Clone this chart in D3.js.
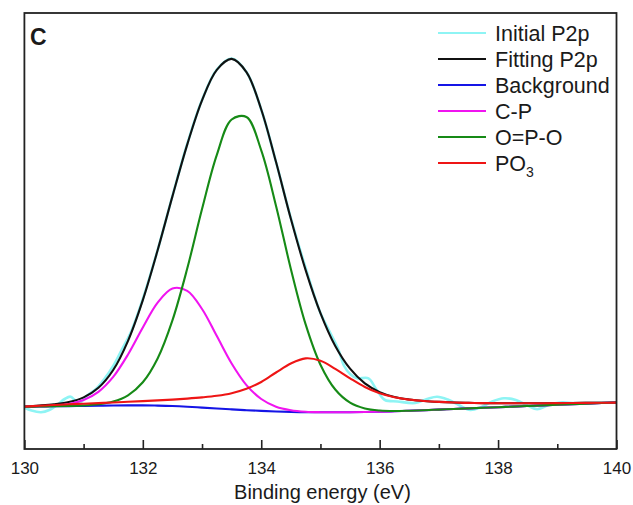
<!DOCTYPE html>
<html>
<head>
<meta charset="utf-8">
<script src="https://d3js.org/d3.v7.min.js"></script>
<style>
  html, body { margin: 0; padding: 0; background: #fff; }
  text { font-family: "Liberation Sans", Arial, sans-serif; fill: #1a1a1a; }
</style>
</head>
<body>
<div id="chart"></div>
<script>
// binding energy grid (eV) used by the fitted curves
var energy = [130, 130.25, 130.5, 130.75, 131, 131.25, 131.5, 131.75, 132, 132.25,
  132.5, 132.75, 133, 133.25, 133.5, 133.75, 134, 134.25, 134.5, 134.75,
  135, 135.25, 135.5, 135.75, 136, 136.25, 136.5, 136.75, 137, 137.25,
  137.5, 137.75, 138, 138.25, 138.5, 138.75, 139, 139.25, 139.5, 139.75, 140];

// intensities (a.u.)
var fitting = [42.4, 43.4, 44.7, 46.9, 51.6, 61.2, 79.0, 108.2, 148.9, 198.7,
  252.6, 304.4, 348.7, 379.2, 390.1, 376.9, 339.5, 286.9, 230.2, 178.9,
  135.9, 103.0, 80.3, 65.6, 56.9, 52.0, 49.5, 48.0, 47.1, 46.5,
  46.1, 45.9, 45.8, 45.7, 45.7, 45.8, 45.9, 46.0, 46.1, 46.2, 46.4];

var background = [42.3, 42.5, 42.7, 42.9, 43.1, 43.3, 43.5, 43.6, 43.6, 43.4,
  43.0, 42.3, 41.4, 40.5, 39.6, 38.8, 38.1, 37.5, 37.1, 36.8,
  36.7, 36.7, 36.8, 37.0, 37.3, 37.7, 38.2, 38.8, 39.4, 40.0,
  40.6, 41.2, 41.8, 42.4, 43.0, 43.6, 44.2, 44.8, 45.4, 46.0, 46.5];

var cp = [42.3, 42.7, 43.4, 45.0, 49.0, 57.2, 72.1, 94.5, 121.5, 146.4,
  160.6, 158.2, 140.0, 112.9, 85.5, 63.9, 50.0, 42.3, 38.8, 37.3,
  36.8, 36.7, 36.8, 37.0, 37.3, 37.7, 38.2, 38.8, 39.4, 40.0,
  40.6, 41.2, 41.8, 42.4, 43.0, 43.6, 44.2, 44.8, 45.4, 46.0, 46.5];

var opo = [42.3, 42.5, 42.7, 43.0, 43.5, 44.7, 47.4, 53.7, 66.7, 90.5,
  128.6, 180.4, 239.9, 294.1, 329.5, 332.0, 298.7, 243.1, 180.1, 124.6,
  84.3, 59.5, 46.4, 40.6, 38.5, 38.0, 38.3, 38.8, 39.4, 40.0,
  40.6, 41.2, 41.8, 42.4, 43.0, 43.6, 44.2, 44.8, 45.4, 46.0, 46.5];

var po3 = [42.4, 43.2, 44.0, 44.7, 45.3, 45.9, 46.5, 47.2, 47.9, 48.6,
  49.4, 50.4, 51.6, 53.2, 55.8, 60.2, 67.0, 76.5, 85.5, 90.6,
  88.2, 80.2, 70.7, 62.0, 55.7, 51.7, 49.4, 48.0, 47.1, 46.5,
  46.1, 45.9, 45.8, 45.7, 45.7, 45.8, 45.9, 46.0, 46.1, 46.2, 46.4];

// measured spectrum has its own (irregular) points
var initialEnergy = [130, 130.12, 130.28, 130.42, 130.55, 130.68, 130.78, 130.92, 131.05, 131.2,
  131.35, 131.5, 131.65, 131.8, 132, 132.25, 132.5, 132.75, 133, 133.25,
  133.5, 133.75, 134, 134.25, 134.5, 134.75, 135, 135.15, 135.3, 135.4,
  135.5, 135.62, 135.81, 135.95, 136.09, 136.3, 136.6, 136.8, 136.97, 137.15,
  137.35, 137.53, 137.7, 137.9, 138.1, 138.3, 138.5, 138.66, 138.85, 139.05,
  139.3, 139.6, 140];
var initial = [41.5, 38.5, 36.8, 39.0, 44.0, 50.0, 52.3, 45.7, 53.0, 59.5,
  70.0, 83.0, 100.0, 117.0, 150.0, 199.0, 253.0, 305.0, 349.0, 379.5,
  390.5, 377.0, 339.5, 287.0, 231.0, 181.0, 136.0, 118.0, 100.0, 83.0,
  75.0, 70.7, 70.7, 59.0, 49.0, 47.5, 46.0, 50.0, 52.3, 49.5,
  43.5, 39.0, 41.5, 47.5, 50.7, 49.0, 43.5, 39.7, 44.0, 46.5,
  46.0, 46.2, 46.5];

var majorTicks = [130, 132, 134, 136, 138, 140];
var minorTicks = [131, 133, 135, 137, 139];

var series = [
  {name: "Initial P2p", x: initialEnergy, y: initial, color: "#8ef4f4", width: 2.6},
  {name: "Fitting P2p", x: energy, y: fitting, color: "#111111", width: 2.1},
  {name: "Background", x: energy, y: background, color: "#1515e6", width: 2.1},
  {name: "C-P", x: energy, y: cp, color: "#f014f0", width: 2.1},
  {name: "O=P-O", x: energy, y: opo, color: "#168a16", width: 2.1},
  {name: "PO3", x: energy, y: po3, color: "#ee1515", width: 2.1}
];

var W = 633, H = 505;
var margin = {top: 13, right: 16.5, bottom: 56, left: 24.4};

var svg = d3.select("#chart").append("svg")
  .attr("width", W)
  .attr("height", H);

var x = d3.scaleLinear().domain([130, 140]).range([margin.left, W - margin.right]);
var y = d3.scaleLinear().domain([0, 436]).range([H - margin.bottom, margin.top]);

var line = d3.line()
  .x(function(d) { return x(d[0]); })
  .y(function(d) { return y(d[1]); })
  .curve(d3.curveCatmullRom.alpha(0.5));

svg.selectAll(".curve").data(series).enter()
  .append("path")
  .attr("class", "curve")
  .attr("fill", "none")
  .attr("stroke", function(d) { return d.color; })
  .attr("stroke-width", function(d) { return d.width; })
  .attr("stroke-linejoin", "round")
  .attr("d", function(d) {
    return line(d.x.map(function(e, i) { return [e, d.y[i]]; }));
  });

// inward ticks on the bottom axis
var bottom = H - margin.bottom;
var major = svg.append("g")
  .attr("transform", "translate(0," + bottom + ")")
  .call(d3.axisBottom(x).tickValues(majorTicks).tickSize(-9).tickPadding(13).tickFormat(d3.format("d")));
var minor = svg.append("g")
  .attr("transform", "translate(0," + bottom + ")")
  .call(d3.axisBottom(x).tickValues(minorTicks).tickSize(-5).tickFormat(""));
[major, minor].forEach(function(g) {
  g.select(".domain").remove();
  g.selectAll("line").attr("stroke", "#222").attr("stroke-width", 1.6);
});
major.selectAll("text")
  .style("font-size", "17px")
  .style("font-family", "'Liberation Sans', Arial, sans-serif")
  .attr("fill", "#1a1a1a");

// frame
svg.append("rect")
  .attr("x", margin.left)
  .attr("y", margin.top)
  .attr("width", W - margin.left - margin.right)
  .attr("height", H - margin.top - margin.bottom)
  .attr("fill", "none")
  .attr("stroke", "#222")
  .attr("stroke-width", 1.8);

svg.append("text")
  .attr("x", (margin.left + W - margin.right) / 2 + 2)
  .attr("y", 499)
  .attr("text-anchor", "middle")
  .style("font-size", "20px")
  .text("Binding energy (eV)");

svg.append("text")
  .attr("x", 30)
  .attr("y", 45)
  .style("font-size", "23px")
  .style("font-weight", "bold")
  .text("C");

// legend
var legend = svg.append("g").attr("transform", "translate(438,33)");
var item = legend.selectAll("g").data(series).enter()
  .append("g")
  .attr("transform", function(d, i) { return "translate(0," + (i * 26) + ")"; });
item.append("line")
  .attr("x1", 0).attr("x2", 48)
  .attr("y1", 0).attr("y2", 0)
  .attr("stroke", function(d) { return d.color; })
  .attr("stroke-width", 2);
var label = item.append("text")
  .attr("x", 57)
  .attr("y", 7.5)
  .style("font-size", "21.5px");
label.each(function(d) {
  var t = d3.select(this);
  if (d.name === "PO3") {
    t.append("tspan").text("PO");
    t.append("tspan").attr("dy", 6).style("font-size", "14px").text("3");
  } else {
    t.text(d.name);
  }
});
</script>
</body>
</html>
